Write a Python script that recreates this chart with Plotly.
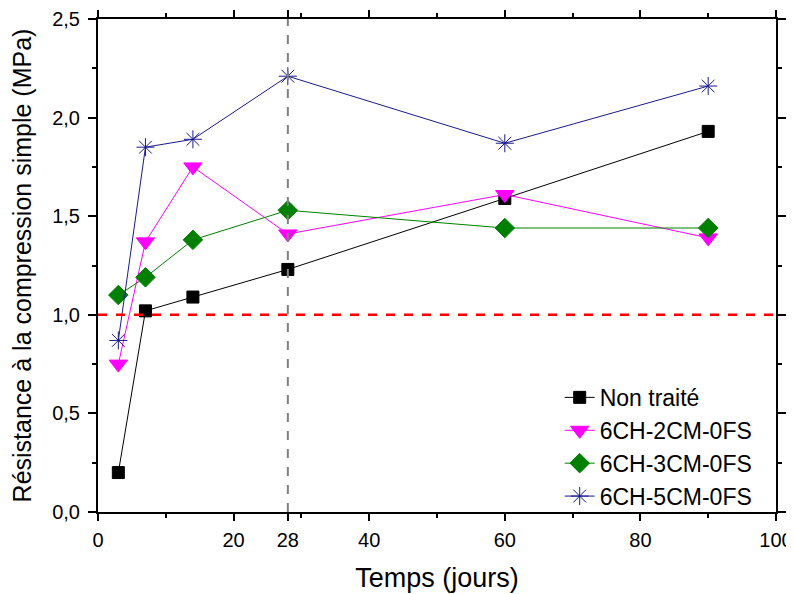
import plotly.graph_objects as go

days = [3, 7, 14, 28, 60, 90]
non_traite = [0.20, 1.02, 1.09, 1.23, 1.59, 1.93]
ch2cm = [0.75, 1.37, 1.75, 1.41, 1.61, 1.39]
ch3cm = [1.10, 1.19, 1.38, 1.53, 1.44, 1.44]
ch5cm = [0.87, 1.85, 1.89, 2.21, 1.87, 2.16]
x_ticks = [0, 20, 28, 40, 60, 80, 100]
y_ticks = [0, 0.5, 1.0, 1.5, 2.0, 2.5]
threshold = 1.0
ref_day = 28

fig = go.Figure()
series = [
    ("Non traité", non_traite, "black", "square", 12),
    ("6CH-2CM-0FS", ch2cm, "#FF00FF", "triangle-down", 16),
    ("6CH-3CM-0FS", ch3cm, "#008000", "diamond", 15),
    ("6CH-5CM-0FS", ch5cm, "#1a1a8c", "asterisk-open", 15),
]
for name, vals, col, sym, sz in series:
    fig.add_trace(go.Scatter(
        x=days, y=vals, name=name, mode="lines+markers",
        line=dict(color=col, width=1),
        marker=dict(symbol=sym, size=sz, color=col, line=dict(color=col, width=1)),
    ))

fig.add_hline(y=threshold, line=dict(color="#FF0000", width=2.5, dash="dash"))
fig.add_vline(x=ref_day, line=dict(color="#808080", width=2, dash="dash"))

font = "Liberation Sans"
fig.update_layout(
    width=794, height=594,
    margin=dict(l=90, r=26, t=11, b=90, autoexpand=False),
    plot_bgcolor="white", paper_bgcolor="white",
    separators=", ",
    font=dict(family=font, color="black", size=19),
    showlegend=True,
    legend=dict(x=0.973, y=-0.012, xanchor="right", yanchor="bottom",
                font=dict(size=23), bgcolor="rgba(0,0,0,0)",
                tracegroupgap=0),
    xaxis=dict(range=[0, 100], tickvals=x_ticks, ticktext=[str(v) for v in x_ticks],
               tickfont=dict(size=20), ticklabelstandoff=2, automargin=False,
               showgrid=False, zeroline=False, showline=True, linecolor="black",
               linewidth=2, mirror="ticks", ticks="outside", ticklen=7, tickwidth=2,
               tickcolor="black",
               minor=dict(dtick=10, ticks="outside", ticklen=4, tickwidth=1.5, tickcolor="black"),
               title=dict(text="Temps (jours)", font=dict(size=27), standoff=18)),
    yaxis=dict(range=[0, 2.5], tickvals=y_ticks, tickformat=".1f",
               tickfont=dict(size=20), ticklabelstandoff=4, automargin=False,
               showgrid=False, zeroline=False, showline=True, linecolor="black",
               linewidth=2, mirror="ticks", ticks="outside", ticklen=8, tickwidth=2,
               tickcolor="black",
               minor=dict(dtick=0.25, ticks="outside", ticklen=4, tickwidth=1.5, tickcolor="black"),
               title=dict(text="Résistance à la compression simple (MPa)", font=dict(size=25), standoff=14)),
)

fig.write_html("out.html")
